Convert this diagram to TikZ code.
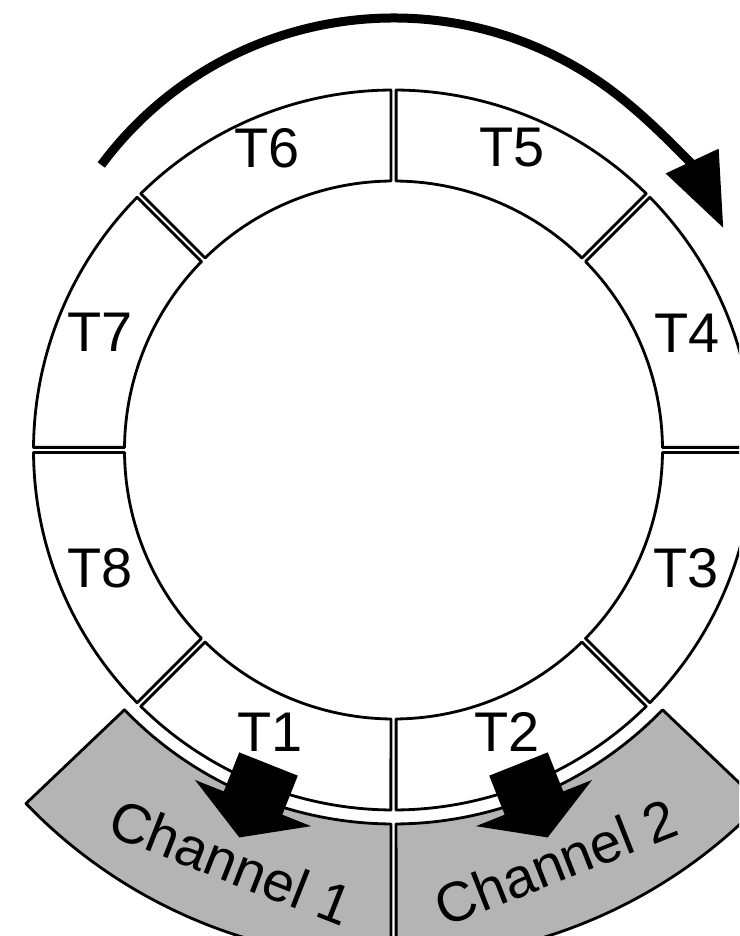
\documentclass[tikz,border=0pt]{standalone}
\usepackage{fontspec}
\setmainfont{Liberation Sans}
\usetikzlibrary{arrows.meta}
\definecolor{channelgray}{HTML}{B4B4B4}

\begin{document}
\begin{tikzpicture}[line join=round,
    slot/.style={draw, line width=0.8pt, fill=white},
    chan/.style={draw, line width=0.8pt, fill=channelgray},
    lbl/.style={font=\fontsize{15.9}{19}\selectfont, inner sep=0pt}]
  \useasboundingbox (-3.935,-4.86) rectangle (3.455,4.50);
  \clip (-3.935,-4.86) rectangle (3.455,4.50);

  % channels
  \foreach \a/\b in {223.6/270, 270/316.4}
    \draw[chan] ({\a+asin(0.026/3.74)}:3.74) -- ({\a+asin(0.026/5.1)}:5.1)
      arc[start angle={\a+asin(0.026/5.1)}, end angle={\b-asin(0.026/5.1)}, radius=5.1]
      -- ({\b-asin(0.026/3.74)}:3.74)
      arc[start angle={\b-asin(0.026/3.74)}, end angle={\a+asin(0.026/3.74)}, radius=3.74] -- cycle;

  % time slots
  \foreach \a in {0,45,...,315}
    \draw[slot] ({\a+asin(0.026/2.69)}:2.69) -- ({\a+asin(0.026/3.6)}:3.6)
      arc[start angle={\a+asin(0.026/3.6)}, end angle={\a+45-asin(0.026/3.6)}, radius=3.6]
      -- ({\a+45-asin(0.026/2.69)}:2.69)
      arc[start angle={\a+45-asin(0.026/2.69)}, end angle={\a+asin(0.026/2.69)}, radius=2.69] -- cycle;

  \node[lbl] (t1) at (-1.235,-2.82) {T1};
  \node[lbl] (t2) at (1.135,-2.82) {T2};
  \node[lbl] (t3) at (2.925,-1.18) {T3};
  \node[lbl] (t4) at (2.935,1.17) {T4};
  \node[lbl] (t5) at (1.185,3.02) {T5};
  \node[lbl] (t6) at (-1.265,3.02) {T6};
  \node[lbl] (t7) at (-2.935,1.18) {T7};
  \node[lbl] (t8) at (-2.935,-1.18) {T8};

  \node[lbl, rotate=-21.5] (ch1) at (248.5:4.43) {Channel 1};
  \node[lbl, rotate=21.5] (ch2) at (291.5:4.43) {Channel 2};

  % slot -> channel
  \foreach \ang in {248.3, 291.7}
    \fill[black, rotate=\ang] (3.38,-0.315) -- (3.80,-0.315) -- (3.80,-0.625) -- (4.17,0)
      -- (3.80,0.625) -- (3.80,0.315) -- (3.38,0.315) -- cycle;

  % rotation
  \coordinate (turn) at (0,0.68);
  \path (turn) ++(143.4:3.64) coordinate (turnstart);
  \draw[line width=0.09cm, -{Triangle[length=0.74cm, width=0.56cm]}]
    (turnstart) arc[start angle=143.4, end angle=25, radius=3.64];
\end{tikzpicture}
\end{document}
